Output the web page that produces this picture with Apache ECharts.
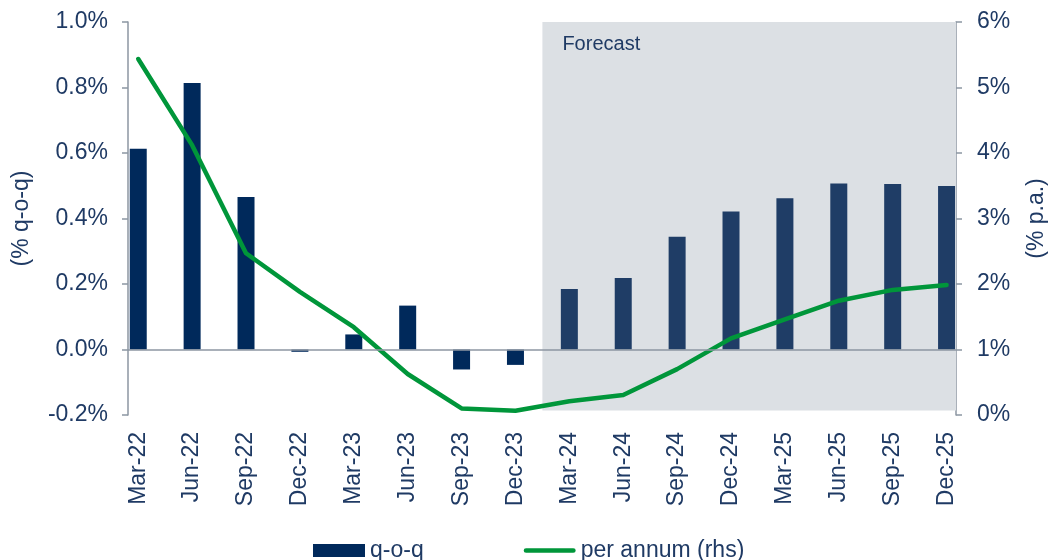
<!DOCTYPE html>
<html>
<head>
<meta charset="utf-8">
<script src="https://cdn.jsdelivr.net/npm/echarts@6/dist/echarts.min.js"></script>
<style>
  html, body { margin: 0; padding: 0; background: #ffffff; }
  #chart { width: 1051px; height: 560px; }
</style>
</head>
<body>
<div id="chart"></div>
<script>
// ---- data ----
const categories = ['Mar-22','Jun-22','Sep-22','Dec-22','Mar-23','Jun-23','Sep-23','Dec-23',
                    'Mar-24','Jun-24','Sep-24','Dec-24','Mar-25','Jun-25','Sep-25','Dec-25'];
const qoq = [0.613, 0.814, 0.466, -0.007, 0.046, 0.134, -0.061, -0.047,
             0.185, 0.218, 0.344, 0.421, 0.462, 0.507, 0.505, 0.499];
const perAnnum = [5.435, 4.12, 2.47, 1.88, 1.34, 0.626, 0.10, 0.066,
                  0.21, 0.305, 0.70, 1.17, 1.46, 1.745, 1.91, 1.985];
const forecastFromIndex = 8;   // Mar-24
const seriesNames = ['q-o-q', 'per annum (rhs)'];
const forecastLabel = 'Forecast';
const leftAxisName = '(% q-o-q)';
const rightAxisName = '(% p.a.)';

// ---- styles ----
const TEXT = '#1F3A64';
const AXIS = '#8C96A2';
const BAR = '#00295B';
const BAR_FC = '#1F3D66';
const GREEN = '#00963A';
const FONT = '"Liberation Sans", Arial, sans-serif';
const FS = 23;
const X_MIN = -0.19, X_MAX = 15.175;

const chart = echarts.init(document.getElementById('chart'), null, { renderer: 'canvas' });

const option = {
  animation: false,
  backgroundColor: '#ffffff',
  textStyle: { fontFamily: FONT, color: TEXT },
  grid: { left: 128, right: 95, top: 22, bottom: 145, containLabel: false, outerBoundsMode: 'none' },
  legend: {
    left: 308, top: 534,
    itemWidth: 52, itemHeight: 13, itemGap: 100,
    textStyle: { fontFamily: FONT, fontSize: FS, color: TEXT },
    data: [
      { name: seriesNames[0], icon: 'rect', itemStyle: { color: BAR } },
      { name: seriesNames[1],
        icon: 'path://M2.5,0 L52.5,0 A2.5,2.5 0 0 1 52.5,5 L2.5,5 A2.5,2.5 0 0 1 2.5,0 Z' }
    ]
  },
  xAxis: {
    type: 'value',
    min: X_MIN, max: X_MAX,
    splitLine: { show: false },
    axisLine: { show: false, onZero: false },
    axisTick: { show: false },
    axisLabel: {
      customValues: categories.map((c, i) => i),
      formatter: v => categories[Math.round(v)] || '',
      rotate: 90, margin: 17,
      fontSize: FS, fontFamily: FONT, color: TEXT
    }
  },
  yAxis: [
    {
      type: 'value', position: 'left',
      min: -0.2, max: 1.0, interval: 0.2,
      name: leftAxisName, nameLocation: 'middle', nameGap: 95, nameRotate: 90,
      nameTextStyle: { fontSize: FS, fontFamily: FONT, color: TEXT },
      axisLine: { show: true, onZero: false, lineStyle: { color: AXIS, width: 1.5 } },
      axisTick: { show: true, inside: false, length: 6, lineStyle: { color: AXIS, width: 1.5 } },
      splitLine: { show: false },
      axisLabel: { margin: 20, fontSize: FS, fontFamily: FONT, color: TEXT,
                   formatter: v => v.toFixed(1) + '%' }
    },
    {
      type: 'value', position: 'right',
      min: 0, max: 6, interval: 1,
      name: rightAxisName, nameLocation: 'middle', nameGap: 69, nameRotate: 90,
      nameTextStyle: { fontSize: FS, fontFamily: FONT, color: TEXT },
      axisLine: { show: true, onZero: false, lineStyle: { color: AXIS, width: 1.5 } },
      axisTick: { show: true, inside: false, length: 6, lineStyle: { color: AXIS, width: 1.5 } },
      splitLine: { show: false },
      axisLabel: { margin: 21, fontSize: FS, fontFamily: FONT, color: TEXT,
                   formatter: v => v + '%' }
    }
  ],
  series: [
    {
      type: 'line',
      xAxisIndex: 0, yAxisIndex: 0,
      data: [],
      z: 1,
      silent: true,
      markArea: {
        silent: true,
        itemStyle: { color: '#DCE0E4' },
        label: { show: true, position: [20, 12], fontSize: 20, fontFamily: FONT, color: TEXT },
        data: [[
          { name: forecastLabel, coord: [forecastFromIndex - 0.5, 1.0] },
          { coord: [X_MAX, -0.186] }
        ]]
      }
    },
    {
      name: seriesNames[0],
      type: 'bar',
      xAxisIndex: 0, yAxisIndex: 0,
      barWidth: 17,
      z: 2,
      itemStyle: { color: BAR },
      data: qoq.map((v, i) => ({
        value: [i, v],
        itemStyle: { color: i >= forecastFromIndex ? BAR_FC : BAR }
      })),
      markLine: {
        silent: true, symbol: 'none',
        label: { show: false },
        lineStyle: { color: AXIS, width: 1.5, type: 'solid' },
        data: [{ yAxis: 0 }]
      }
    },
    {
      name: seriesNames[1],
      type: 'line',
      xAxisIndex: 0, yAxisIndex: 1,
      symbol: 'none',
      z: 3,
      itemStyle: { color: GREEN },
      lineStyle: { color: GREEN, width: 4.5, cap: 'round', join: 'round' },
      data: perAnnum.map((v, i) => [i, v])
    }
  ]
};

chart.setOption(option);
</script>
</body>
</html>
